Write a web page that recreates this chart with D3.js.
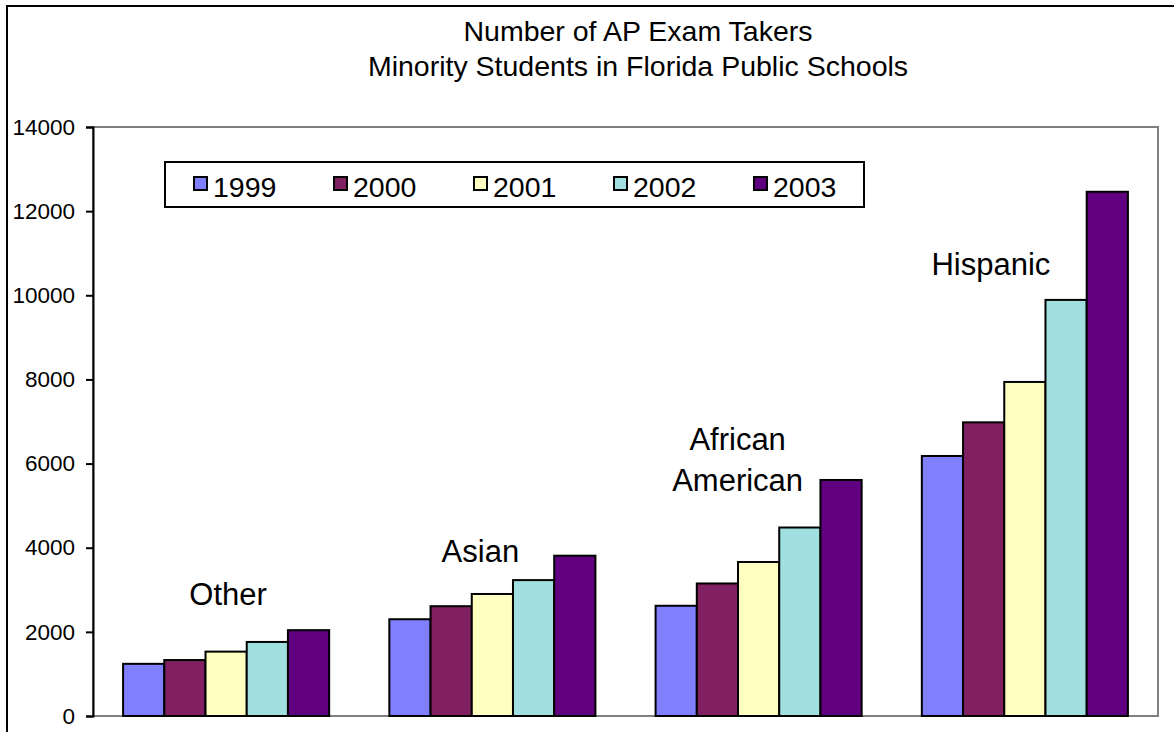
<!DOCTYPE html>
<html>
<head>
<meta charset="utf-8">
<script src="https://cdn.jsdelivr.net/npm/d3@7"></script>
<style>
  body { margin: 0; background: #fff; }
  svg { display: block; font-family: Arial, "Liberation Sans", sans-serif; }
</style>
</head>
<body>
<div id="container"></div>
<script>
const categories = ["Other", "Asian", "African American", "Hispanic"];
const years = ["1999", "2000", "2001", "2002", "2003"];

// exam takers per category, one array per year
const takers1999 = [1240, 2300, 2620, 6180];
const takers2000 = [1330, 2610, 3150, 6980];
const takers2001 = [1530, 2900, 3660, 7940];
const takers2002 = [1760, 3230, 4480, 9890];
const takers2003 = [2040, 3810, 5610, 12460];

const yTicks = [0, 2000, 4000, 6000, 8000, 10000, 12000, 14000];
const titleLines = ["Number of AP Exam Takers", "Minority Students in Florida Public Schools"];
const categoryLabels = [["Other"], ["Asian"], ["African", "American"], ["Hispanic"]];

const series = [takers1999, takers2000, takers2001, takers2002, takers2003];
const colors = ["#8080ff", "#802060", "#ffffc0", "#a0e0e0", "#600080"];

const width = 1174;
const height = 732;
const plot = { left: 93, right: 1158, top: 127, bottom: 716 };

const svg = d3
  .select("#container")
  .append("svg")
  .attr("width", width)
  .attr("height", height);

const x0 = d3
  .scaleBand()
  .domain(categories)
  .range([plot.left, plot.right])
  .paddingInner(0.226)
  .paddingOuter(0.113);

const x1 = d3.scaleBand().domain(years).range([0, x0.bandwidth()]);

const y = d3.scaleLinear().domain([0, 14000]).range([plot.bottom, plot.top]);

// plot area frame (grey)
svg
  .append("rect")
  .attr("x", plot.left)
  .attr("y", plot.top)
  .attr("width", plot.right - plot.left)
  .attr("height", plot.bottom - plot.top)
  .attr("fill", "none")
  .attr("stroke", "#808080")
  .attr("stroke-width", 2);

// bars
const groups = svg
  .append("g")
  .selectAll("g")
  .data(categories)
  .enter()
  .append("g")
  .attr("transform", (d) => `translate(${x0(d)},0)`);

groups
  .selectAll("rect")
  .data((d, i) => years.map((yr, j) => ({ year: yr, value: series[j][i], color: colors[j] })))
  .enter()
  .append("rect")
  .attr("x", (d) => x1(d.year))
  .attr("y", (d) => y(d.value))
  .attr("width", x1.bandwidth())
  .attr("height", (d) => y(0) - y(d.value))
  .attr("fill", (d) => d.color)
  .attr("stroke", "#000")
  .attr("stroke-width", 2);

// y axis
const yAxis = d3.axisLeft(y).tickValues(yTicks).tickSize(7).tickPadding(11).tickFormat(d3.format("d"));
const axisG = svg
  .append("g")
  .attr("transform", `translate(${plot.left},0)`)
  .call(yAxis);
axisG.select(".domain").attr("stroke", "#000").attr("stroke-width", 2);
axisG.selectAll(".tick line").attr("stroke", "#000").attr("stroke-width", 2);
axisG
  .selectAll(".tick text")
  .attr("fill", "#000")
  .style("font-family", "Arial, 'Liberation Sans', sans-serif")
  .style("font-size", "22.5px");

// legend
const legend = svg.append("g").attr("transform", "translate(165,162)");
legend
  .append("rect")
  .attr("width", 699)
  .attr("height", 45)
  .attr("fill", "#fff")
  .attr("stroke", "#000")
  .attr("stroke-width", 2);

const legendItems = legend
  .selectAll("g.item")
  .data(years)
  .enter()
  .append("g")
  .attr("class", "item")
  .attr("transform", (d, i) => `translate(${29 + i * 140},0)`);

legendItems
  .append("rect")
  .attr("x", 0)
  .attr("y", 15)
  .attr("width", 13)
  .attr("height", 13)
  .attr("fill", (d, i) => colors[i])
  .attr("stroke", "#000")
  .attr("stroke-width", 2);

legendItems
  .append("text")
  .attr("x", 19)
  .attr("y", 35)
  .attr("font-size", 28.5)
  .attr("fill", "#000")
  .text((d) => d);

// category labels: horizontal offset from band centre, baseline in data units
const labelLayout = [
  { dx: 2, base: 2640, lineGap: 0 },
  { dx: -12, base: 3660, lineGap: 0 },
  { dx: -21, base: 6320, lineGap: 41 },
  { dx: -34, base: 10480, lineGap: 0 },
];

categoryLabels.forEach((lines, i) => {
  const cx = x0(categories[i]) + x0.bandwidth() / 2 + labelLayout[i].dx;
  lines.forEach((line, k) => {
    svg
      .append("text")
      .attr("x", cx)
      .attr("y", y(labelLayout[i].base) + k * labelLayout[i].lineGap)
      .attr("text-anchor", "middle")
      .attr("font-size", 31)
      .attr("fill", "#000")
      .text(line);
  });
});

// title
svg
  .selectAll("text.title")
  .data(titleLines)
  .enter()
  .append("text")
  .attr("class", "title")
  .attr("x", 638)
  .attr("y", (d, i) => 41 + i * 35)
  .attr("text-anchor", "middle")
  .attr("font-size", 28.5)
  .attr("fill", "#000")
  .text((d) => d);

// outer chart border
svg
  .append("rect")
  .attr("x", 7)
  .attr("y", 6)
  .attr("width", 1190)
  .attr("height", 760)
  .attr("fill", "none")
  .attr("stroke", "#000")
  .attr("stroke-width", 2);
</script>
</body>
</html>
